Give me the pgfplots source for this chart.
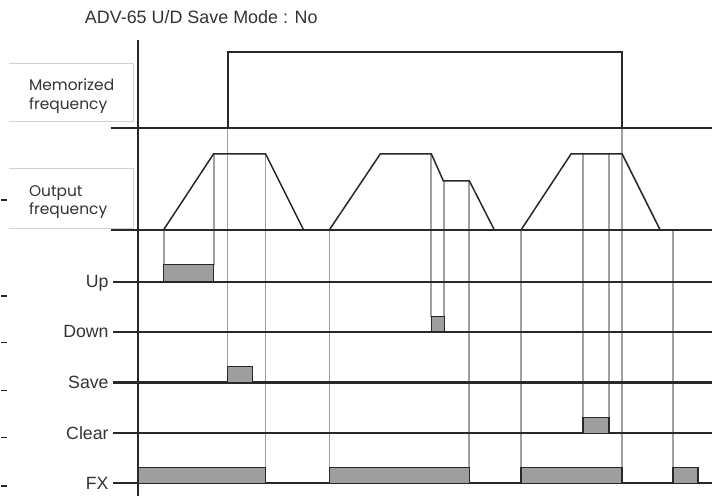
\documentclass[border=0pt]{standalone}
\usepackage{pgfplots}
\pgfplotsset{compat=1.18}
\usepackage{fontspec}
\setmainfont{Liberation Sans}
\newfontfamily\boxfont{Poppins}
\definecolor{sig}{RGB}{40,40,40}
\definecolor{guide}{RGB}{160,160,160}
\definecolor{pulse}{RGB}{158,158,158}
\definecolor{boxline}{RGB}{210,210,210}
\begin{document}
\begin{tikzpicture}
\begin{axis}[
  x=1bp, y=1bp,
  xmin=0, xmax=713, ymin=0, ymax=498,
  y dir=reverse,
  hide axis, clip=false,
  every axis plot/.append style={mark=none},
]
% invisible frame fixing the page size
\addplot[draw=none] coordinates {(0,0) (713,498)};
% label boxes
\addplot[boxline, line width=1bp] coordinates {(8,64) (133,64) (133,122) (8,122)};
\addplot[boxline, line width=1bp] coordinates {(8,169) (133,169) (133,229) (8,229)};
% small dashes at the left edge
\addplot[sig, line width=1.8bp] coordinates {(0,200) (6,200)};
\addplot[sig, line width=1.8bp] coordinates {(0,296) (6,296)};
\addplot[sig, line width=1.8bp] coordinates {(0,343) (6,343)};
\addplot[sig, line width=1.8bp] coordinates {(0,391) (6,391)};
\addplot[sig, line width=1.8bp] coordinates {(0,438) (6,438)};
\addplot[sig, line width=1.8bp] coordinates {(0,487) (6,487)};
% guide lines (grey verticals)
\addplot[guide, line width=1.8bp] coordinates {(163,230) (163,265)};
\addplot[guide, line width=1.8bp] coordinates {(213,154) (213,265)};
\addplot[guide, line width=1.8bp] coordinates {(227,128) (227,367)};
\addplot[guide, line width=1.8bp] coordinates {(265,154) (265,484)};
\addplot[guide, line width=1.8bp] coordinates {(329,230) (329,484)};
\addplot[guide, line width=1.8bp] coordinates {(431,154) (431,317)};
\addplot[guide, line width=1.8bp] coordinates {(444,181) (444,317)};
\addplot[guide, line width=1.8bp] coordinates {(469,181) (469,484)};
\addplot[guide, line width=1.8bp] coordinates {(521,230) (521,484)};
\addplot[guide, line width=1.8bp] coordinates {(583,154) (583,418)};
\addplot[guide, line width=1.8bp] coordinates {(609,154) (609,418)};
\addplot[guide, line width=1.8bp] coordinates {(622,128) (622,484)};
\addplot[guide, line width=1.8bp] coordinates {(673,230) (673,468)};
% baselines
\addplot[sig, line width=2.1bp] coordinates {(110,128) (712,128)};
\addplot[sig, line width=2.1bp] coordinates {(110,230) (712,230)};
\addplot[sig, line width=2.1bp] coordinates {(112,282) (712,282)};
\addplot[sig, line width=2.1bp] coordinates {(112,332) (712,332)};
\addplot[sig, line width=2.1bp] coordinates {(112,383) (712,383)};
\addplot[sig, line width=2.1bp] coordinates {(112,434) (712,434)};
\addplot[sig, line width=2.1bp] coordinates {(112,484) (712,484)};
% memorized frequency
\addplot[sig, line width=1.9bp] coordinates {(227,128) (227,52) (622,52) (622,128)};
% output frequency
\addplot[sig, line width=1.5bp] coordinates {(163,230) (213,154) (265,154) (303,230)};
\addplot[sig, line width=1.5bp] coordinates {(329,230) (380,154) (431,154) (443,181) (469,181) (494,230)};
\addplot[sig, line width=1.5bp] coordinates {(521,230) (571,154) (622,154) (660,230)};
% pulses
\addplot[draw=sig, fill=pulse, line width=1.5bp] coordinates {(163,282) (163,265) (213,265) (213,282)} --cycle;
\addplot[draw=sig, fill=pulse, line width=1.5bp] coordinates {(431,332) (431,317) (444,317) (444,332)} --cycle;
\addplot[draw=sig, fill=pulse, line width=1.5bp] coordinates {(227,383) (227,367) (252,367) (252,383)} --cycle;
\addplot[draw=sig, fill=pulse, line width=1.5bp] coordinates {(583,434) (583,418) (609,418) (609,434)} --cycle;
\addplot[draw=sig, fill=pulse, line width=1.5bp] coordinates {(137,484) (137,468) (265,468) (265,484)} --cycle;
\addplot[draw=sig, fill=pulse, line width=1.5bp] coordinates {(329,484) (329,468) (469,468) (469,484)} --cycle;
\addplot[draw=sig, fill=pulse, line width=1.5bp] coordinates {(521,484) (521,468) (622,468) (622,484)} --cycle;
\addplot[draw=sig, fill=pulse, line width=1.5bp] coordinates {(673,484) (673,468) (698,468) (698,484)} --cycle;
% main vertical axis
\addplot[sig, line width=2.1bp] coordinates {(137,40) (137,497)};
% texts
\node[anchor=base west, inner sep=0pt, text=black!80, font=\fontsize{18}{21}\selectfont] at (axis cs:84,24) {ADV-65 U/D Save Mode : No};
\node[anchor=base west, inner sep=0pt, text=black!80, font=\boxfont\fontsize{15.5}{18}\selectfont] at (axis cs:28,91) {Memorized};
\node[anchor=base west, inner sep=0pt, text=black!80, font=\boxfont\fontsize{15.5}{18}\selectfont] at (axis cs:28,110) {frequency};
\node[anchor=base west, inner sep=0pt, text=black!80, font=\boxfont\fontsize{15.5}{18}\selectfont] at (axis cs:28,197) {Output};
\node[anchor=base west, inner sep=0pt, text=black!80, font=\boxfont\fontsize{15.5}{18}\selectfont] at (axis cs:28,215) {frequency};
\node[anchor=base east, inner sep=0pt, text=black!80, font=\fontsize{17.8}{20}\selectfont] at (axis cs:108,288) {Up};
\node[anchor=base east, inner sep=0pt, text=black!80, font=\fontsize{17.8}{20}\selectfont] at (axis cs:108,338) {Down};
\node[anchor=base east, inner sep=0pt, text=black!80, font=\fontsize{17.8}{20}\selectfont] at (axis cs:108,389) {Save};
\node[anchor=base east, inner sep=0pt, text=black!80, font=\fontsize{17.8}{20}\selectfont] at (axis cs:108,440) {Clear};
\node[anchor=base east, inner sep=0pt, text=black!80, font=\fontsize{17.8}{20}\selectfont] at (axis cs:108,490) {FX};
\end{axis}
\end{tikzpicture}
\end{document}
